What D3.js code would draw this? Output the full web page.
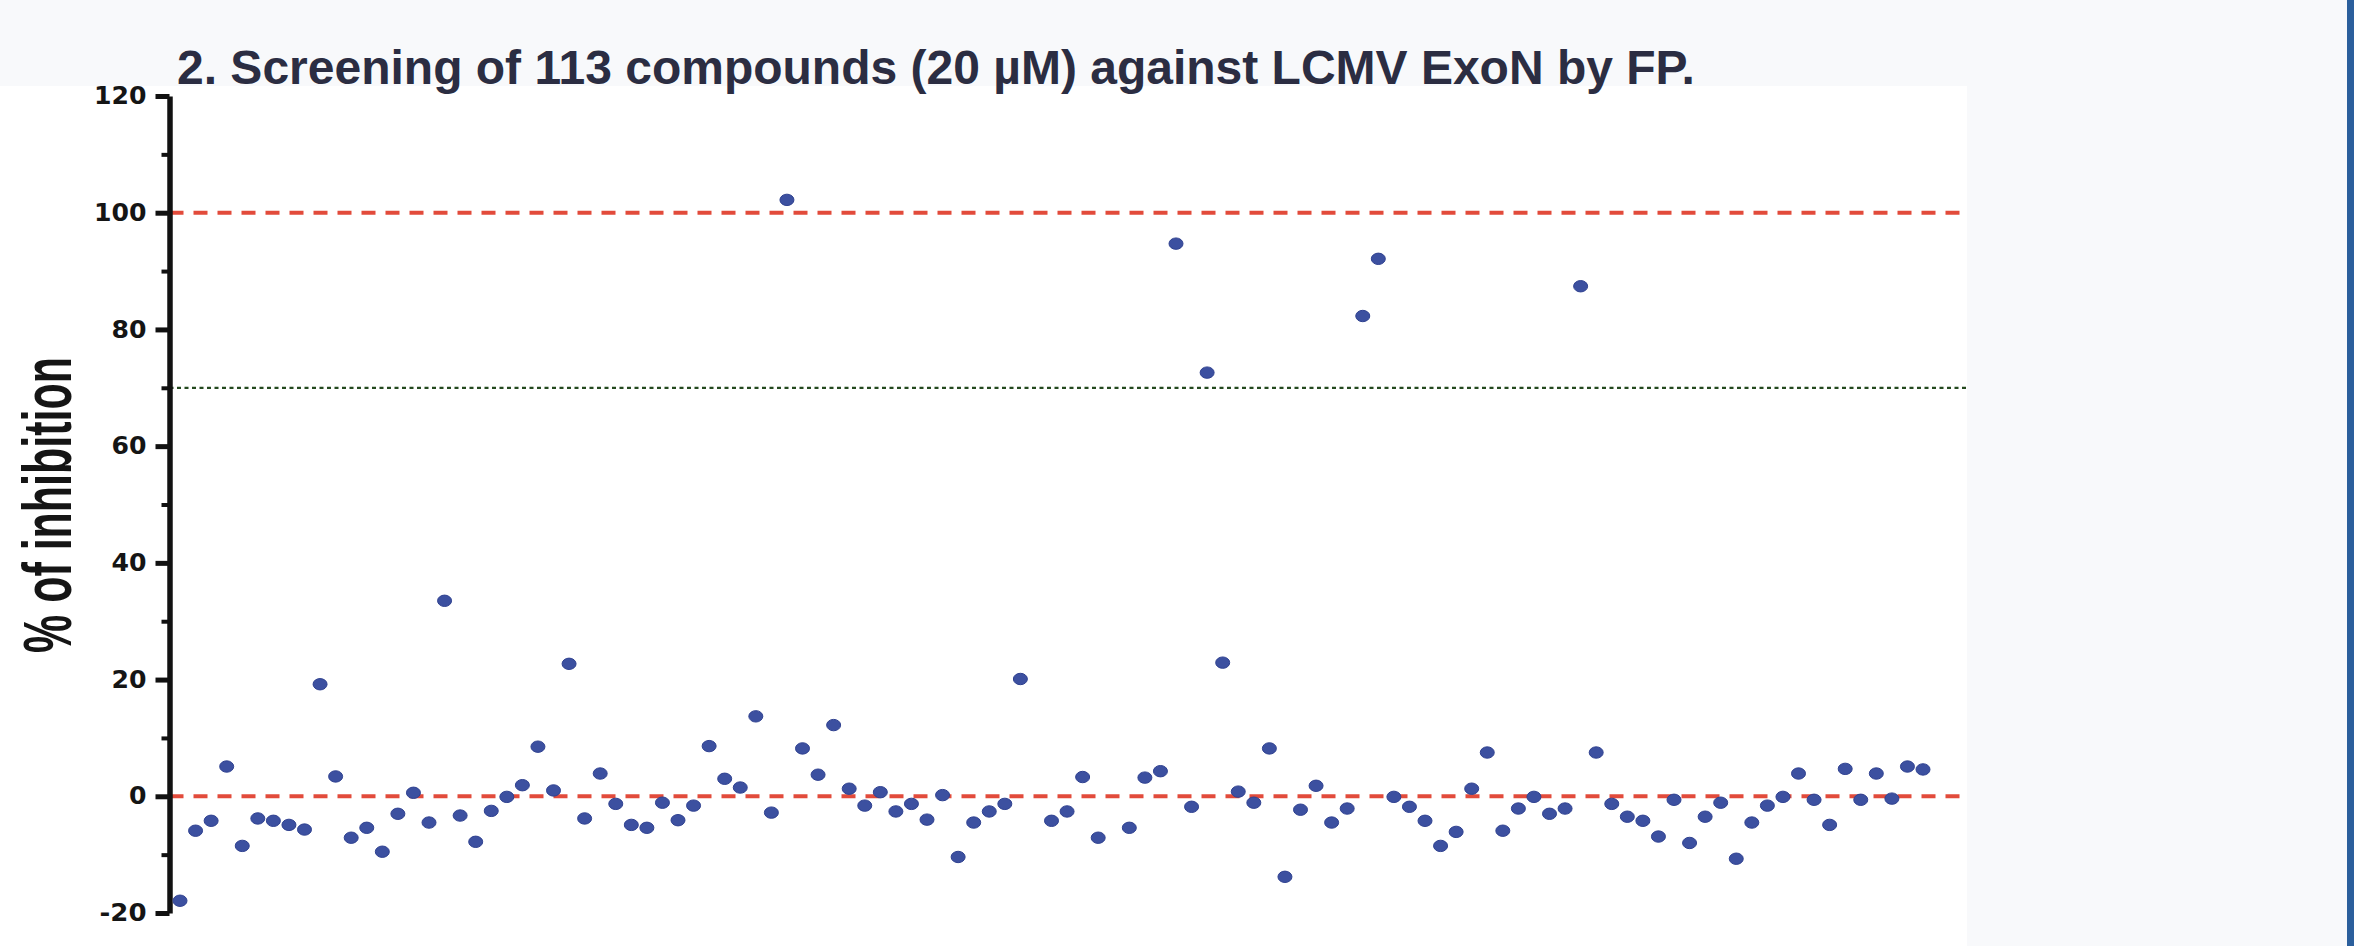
<!DOCTYPE html>
<html>
<head>
<meta charset="utf-8">
<script src="https://cdn.jsdelivr.net/npm/d3@7"></script>
<style>
  html, body { margin: 0; padding: 0; background: #f8f9fb; }
  svg { display: block; }
</style>
</head>
<body>
<div class="chart"></div>
<script>
// declare chart constants
const WIDTH = 2354;
const HEIGHT = 946;

// title and axis texts
const TITLE = "2. Screening of 113 compounds (20 \u00b5M) against LCMV ExoN by FP.";
const YLABEL = "% of inhibition";

// y ticks
const MAJORTICKS = [-20, 0, 20, 40, 60, 80, 100, 120];
const MINORTICKS = [-10, 10, 30, 50, 70, 90, 110];

// threshold lines
const REDLINES = [0, 100];
const GREENLINES = [70];

// % of inhibition for each compound (null = no visible point)
const INHIBITION = [
  -17.9, -5.9, -4.2, 5.1, -8.5, -3.8, -4.2, -4.9, -5.7, 19.2,
  3.4, -7.1, -5.4, -9.5, -3.0, 0.6, -4.5, 33.5, -3.3, -7.8,
  -2.5, -0.1, 1.9, 8.5, 1.0, 22.7, -3.8, 3.9, -1.3, -4.9,
  -5.4, -1.1, -4.1, -1.6, 8.6, 3.0, 1.5, 13.7, -2.8, 102.2,
  8.2, 3.7, 12.2, 1.3, -1.6, 0.7, -2.6, -1.3, -4.0, 0.2,
  -10.4, -4.5, -2.6, -1.3, 20.1, null, -4.2, -2.6, 3.3, -7.1,
  null, -5.4, 3.2, 4.3, 94.7, -1.8, 72.6, 22.9, 0.8, -1.1,
  8.2, -13.8, -2.3, 1.8, -4.5, -2.1, 82.3, 92.1, -0.1, -1.8,
  -4.2, -8.5, -6.1, 1.3, 7.5, -5.9, -2.1, -0.1, -3.0, -2.1,
  87.4, 7.5, -1.3, -3.5, -4.2, -6.9, -0.6, -8.0, -3.5, -1.1,
  -10.7, -4.5, -1.6, -0.1, 3.9, -0.6, -4.9, 4.7, -0.6, 3.9,
  -0.4, 5.1, 4.6
];

// initialise svg
const SVG = d3
  .select(".chart")
  .append("svg")
  .attr("width", WIDTH)
  .attr("height", HEIGHT);

// white figure panel
SVG.append("rect")
  .attr("x", 0)
  .attr("y", 86)
  .attr("width", 1967)
  .attr("height", HEIGHT - 86)
  .attr("fill", "#ffffff");

// blue bar on right edge
SVG.append("rect")
  .attr("x", 2347)
  .attr("y", 0)
  .attr("width", 7)
  .attr("height", HEIGHT)
  .attr("fill", "#2b5f9c");

// scales
const X = d3
  .scaleLinear()
  .domain([0, INHIBITION.length - 1])
  .range([180, 1923]);

const Y = d3.scaleLinear().domain([-20, 120]).range([913, 96]);

const AXISX = 169.5;
const PLOTRIGHT = 1967;

// threshold lines
SVG.selectAll(".redline")
  .data(REDLINES)
  .enter()
  .append("line")
  .attr("class", "redline")
  .attr("x1", AXISX)
  .attr("x2", PLOTRIGHT)
  .attr("y1", (d) => Y(d))
  .attr("y2", (d) => Y(d))
  .attr("stroke", "#e24b3b")
  .attr("stroke-width", 4)
  .attr("stroke-dasharray", "14,10");

SVG.selectAll(".greenline")
  .data(GREENLINES)
  .enter()
  .append("line")
  .attr("class", "greenline")
  .attr("x1", AXISX)
  .attr("x2", PLOTRIGHT)
  .attr("y1", (d) => Y(d))
  .attr("y2", (d) => Y(d))
  .attr("stroke", "#24491f")
  .attr("stroke-width", 2.2)
  .attr("stroke-dasharray", "4,3.5");

// minor ticks
SVG.append("g")
  .attr("transform", `translate(${AXISX},0)`)
  .call(d3.axisLeft(Y).tickValues(MINORTICKS).tickSize(8).tickFormat(""))
  .call((g) => g.select(".domain").remove())
  .call((g) => g.selectAll("line").attr("stroke", "#111").attr("stroke-width", 4));

// major axis
const YAXIS = SVG.append("g")
  .attr("transform", `translate(${AXISX},0)`)
  .call(
    d3
      .axisLeft(Y)
      .tickValues(MAJORTICKS)
      .tickSize(14)
      .tickSizeOuter(0)
      .tickPadding(9)
      .tickFormat((d) => String(d))
  );

YAXIS.select(".domain").attr("stroke", "#111").attr("stroke-width", 5.5);
YAXIS.selectAll("line").attr("stroke", "#111").attr("stroke-width", 5);
YAXIS.selectAll("text")
  .attr("fill", "#151515")
  .style("font-family", "'DejaVu Sans', sans-serif")
  .style("font-weight", "bold")
  .style("font-size", "24px")
  // stretch labels like the scanned figure
  .attr("textLength", (d) => {
    const s = String(d);
    return s.replace("-", "").length * 17.5 + (s.indexOf("-") >= 0 ? 12 : 0);
  })
  .attr("lengthAdjust", "spacingAndGlyphs");

// y label
SVG.append("text")
  .attr("transform", "translate(71,505) rotate(-90)")
  .attr("text-anchor", "middle")
  .attr("fill", "#151515")
  .style("font-family", "'Liberation Sans', Arial, sans-serif")
  .style("font-weight", "bold")
  .style("font-size", "69px")
  .attr("textLength", 296)
  .attr("lengthAdjust", "spacingAndGlyphs")
  .text(YLABEL);

// data points
SVG.append("g")
  .selectAll("ellipse")
  .data(INHIBITION.map((v, i) => ({ i: i, v: v })).filter((d) => d.v !== null))
  .enter()
  .append("ellipse")
  .attr("cx", (d) => X(d.i))
  .attr("cy", (d) => Y(d.v))
  .attr("rx", 7)
  .attr("ry", 5.7)
  .attr("fill", "#3c50a0")
  .attr("stroke", "#2f4190")
  .attr("stroke-width", 1);

// title
SVG.append("text")
  .attr("x", 177)
  .attr("y", 84)
  .attr("fill", "#2b2d42")
  .style("font-family", "'Liberation Sans', Arial, sans-serif")
  .style("font-weight", "bold")
  .style("font-size", "48px")
  .text(TITLE);
</script>
</body>
</html>
